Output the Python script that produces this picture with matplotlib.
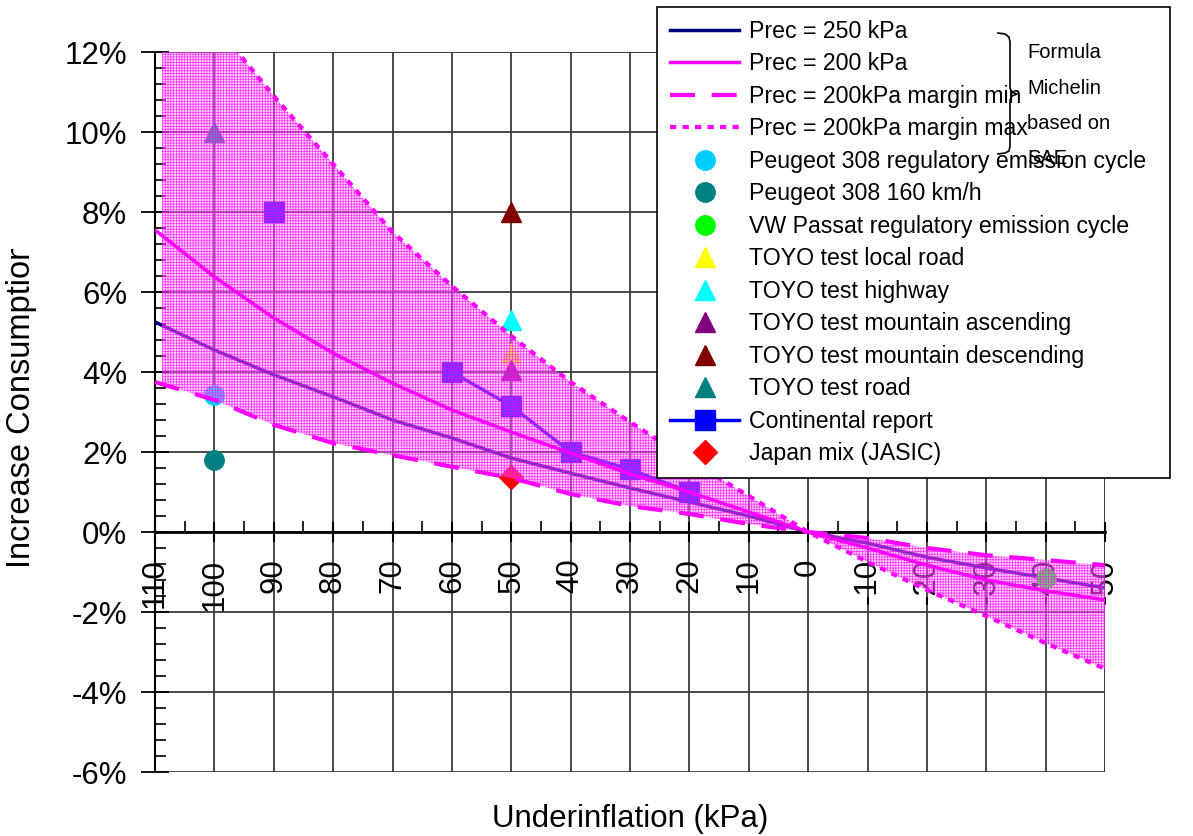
import matplotlib
matplotlib.use("Agg")
import matplotlib.pyplot as plt
import numpy as np
from matplotlib.lines import Line2D
from matplotlib.patches import Rectangle
from matplotlib.ticker import MultipleLocator, FuncFormatter
from matplotlib.transforms import Bbox

plt.rcParams['font.family'] = ['Liberation Sans', 'DejaVu Sans']
plt.rcParams['hatch.linewidth'] = 0.5

# pression (kPa) : sous-gonflage
kpa = [110, 100, 90, 80, 70, 60, 50, 40, 30, 20, 10, 0, -10, -20, -30, -40, -50]
# formule Michelin (%)
prec250 = [5.25, 4.55, 3.93, 3.38, 2.8, 2.35, 1.85, 1.47, 1.1, 0.75, 0.4, 0.0,
           -0.28, -0.63, -0.9, -1.15, -1.4]
prec200 = [7.55, 6.38, 5.35, 4.47, 3.72, 3.05, 2.5, 1.97, 1.45, 1.0, 0.5, 0.0,
           -0.4, -0.83, -1.2, -1.47, -1.7]
marge_min = [3.75, 3.3, 2.68, 2.22, 1.92, 1.63, 1.35, 0.95, 0.65, 0.45, 0.2, 0.0,
             -0.15, -0.4, -0.58, -0.7, -0.83]
marge_max = [14.6, 12.7, 10.9, 9.2, 7.5, 6.15, 4.9, 3.75, 2.75, 1.8, 0.9, 0.0,
             -0.75, -1.45, -2.1, -2.78, -3.42]

# mesures
peugeot_cycle = ([100], [3.42])
peugeot_160 = ([100], [1.8])
passat_cycle = ([-40], [-1.15])
toyo_local = ([50], [4.47])
toyo_highway = ([50], [5.3])
toyo_mont_up = ([50], [4.05])
toyo_mont_down = ([50], [8.0])
toyo_road = ([100], [10.0])
conti_x = [90, np.nan, 60, 50, 40, 30, 20]
conti_y = [8.0, np.nan, 4.0, 3.15, 2.0, 1.57, 1.0]
jasic = ([50], [1.38])

fig = plt.figure(figsize=(11.93, 8.36), dpi=100)
ax = fig.add_axes([155/1193, 1-772/836, 950/1193, 720/836])

ax.set_xlim(110, -50)
ax.set_ylim(-6, 12)

# grille
ax.xaxis.set_major_locator(MultipleLocator(10))
ax.xaxis.set_minor_locator(MultipleLocator(5))
ax.yaxis.set_major_locator(MultipleLocator(2))
ax.yaxis.set_minor_locator(MultipleLocator(0.4))
ax.grid(True, which='major', color='#3a3a3a', lw=1.3, zorder=0)
ax.set_axisbelow(True)

ax.spines['top'].set_visible(False)
ax.spines['right'].set_visible(False)
ax.spines['bottom'].set_position(('data', 0))
ax.spines['left'].set_linewidth(1.5)
ax.spines['bottom'].set_linewidth(2)
ax.axhline(12, color='#3a3a3a', lw=1.3, zorder=0)
ax.axvline(-50, color='#3a3a3a', lw=2, zorder=0)

ax.yaxis.set_major_formatter(FuncFormatter(lambda v, p: '%d%%' % round(v)))
ax.tick_params(axis='y', which='major', direction='inout', length=20, width=1.3,
               labelsize=22.5, pad=10)
ax.tick_params(axis='y', which='minor', direction='in', length=8, width=1.2)
ax.tick_params(axis='x', which='major', direction='inout', length=14, width=1.5,
               labelsize=22.5, labelrotation=90, pad=12)
ax.tick_params(axis='x', which='minor', direction='in', length=8, width=1.2)
ax.xaxis.set_major_formatter(FuncFormatter(lambda v, p: '%d' % round(v)))

# courbes
ax.plot(kpa, prec250, color='#000080', lw=2.5, zorder=3, label='Prec = 250 kPa')
ax.plot(kpa, prec200, color='#ff00ff', lw=2.5, zorder=6, label='Prec = 200 kPa')
ax.plot(kpa, marge_min, color='#ff00ff', lw=3, ls=(0, (6, 4)), zorder=6,
        label='Prec = 200kPa margin min')
ax.plot(kpa, marge_max, color='#ff00ff', lw=3, ls=(0, (1.5, 1.5)), zorder=6,
        label='Prec = 200kPa margin max')

ms_c, ms_t = 14, 15
ax.plot(*peugeot_cycle, 'o', color='#00ccff', ms=ms_c, zorder=4,
        label='Peugeot 308 regulatory emission cycle')
ax.plot(*peugeot_160, 'o', color='#008080', ms=ms_c, zorder=4,
        label='Peugeot 308 160 km/h')
ax.plot(*passat_cycle, 'o', color='#00ff00', ms=ms_c, zorder=4,
        label='VW Passat regulatory emission cycle')
ax.plot(*toyo_local, '^', color='#ffff00', ms=ms_t, zorder=4, label='TOYO test local road')
ax.plot(*toyo_highway, '^', color='#00ffff', ms=ms_t, zorder=4, label='TOYO test highway')
ax.plot(*toyo_mont_up, '^', color='#800080', ms=ms_t, zorder=4,
        label='TOYO test mountain ascending')
ax.plot(*toyo_mont_down, '^', color='#800000', ms=ms_t, zorder=4,
        label='TOYO test mountain descending')
ax.plot(*toyo_road, '^', color='#008080', ms=ms_t, zorder=4, label='TOYO test road')
ax.plot(conti_x, conti_y, '-s', color='#0000ff', lw=2.5, ms=14, zorder=3,
        label='Continental report')
ax.plot(*jasic, 'D', color='#ff0000', ms=12, zorder=4, label='Japan mix (JASIC)')

# zone de marge (trame rose)
zone = ax.fill_between(kpa, marge_min, marge_max, facecolor=(1, 0.55, 1, 0.4),
                       edgecolor=(1, 0, 1, 0.75), hatch='++++++', lw=0, zorder=5)
zone.set_clip_path(Rectangle((-50, -6), 158.8, 18, transform=ax.transData))

# axes titres
ax.set_xlabel('Underinflation (kPa)', fontsize=22.5)
ax.xaxis.set_label_coords(0.5, -0.045)
yl = fig.text(22/1193, 1-568/836, 'Increase Consumption', rotation=90, fontsize=23.5,
              ha='center', va='bottom')
yl.set_clip_box(Bbox.from_extents(0, 0, 1193, 836-249))
yl.set_clip_on(True)

# légende
h, l = ax.get_legend_handles_labels()
leg = fig.legend(h, l, loc='upper left', mode='expand',
                 bbox_to_anchor=(657/1193, 1-472/836, 513/1193, 465/836),
                 prop={'size': 16.7}, frameon=True, fancybox=False,
                 edgecolor='black', framealpha=1, handlelength=3.0, handletextpad=0.4,
                 labelspacing=0.41, borderpad=0.55, borderaxespad=0, numpoints=1)
leg.get_frame().set_linewidth(1.2)

# accolade
bx = np.array([998, 1005, 1009, 1010, 1010, 1012, 1017, 1012, 1010, 1010, 1009, 1005, 998])
by = np.array([33, 34, 37, 42, 88, 92, 94, 96, 100, 146, 151, 153, 154])
fig.add_artist(Line2D(bx/1193, 1-by/836, transform=fig.transFigure, color='black',
                      lw=1.2, zorder=6))
fig.text(1027/1193, 1-43/836, 'Formula\nMichelin\nbased on\nSAE', fontsize=14.5,
         va='top', ha='left', linespacing=2.1, zorder=6)

fig.savefig('out.png', dpi=100)
